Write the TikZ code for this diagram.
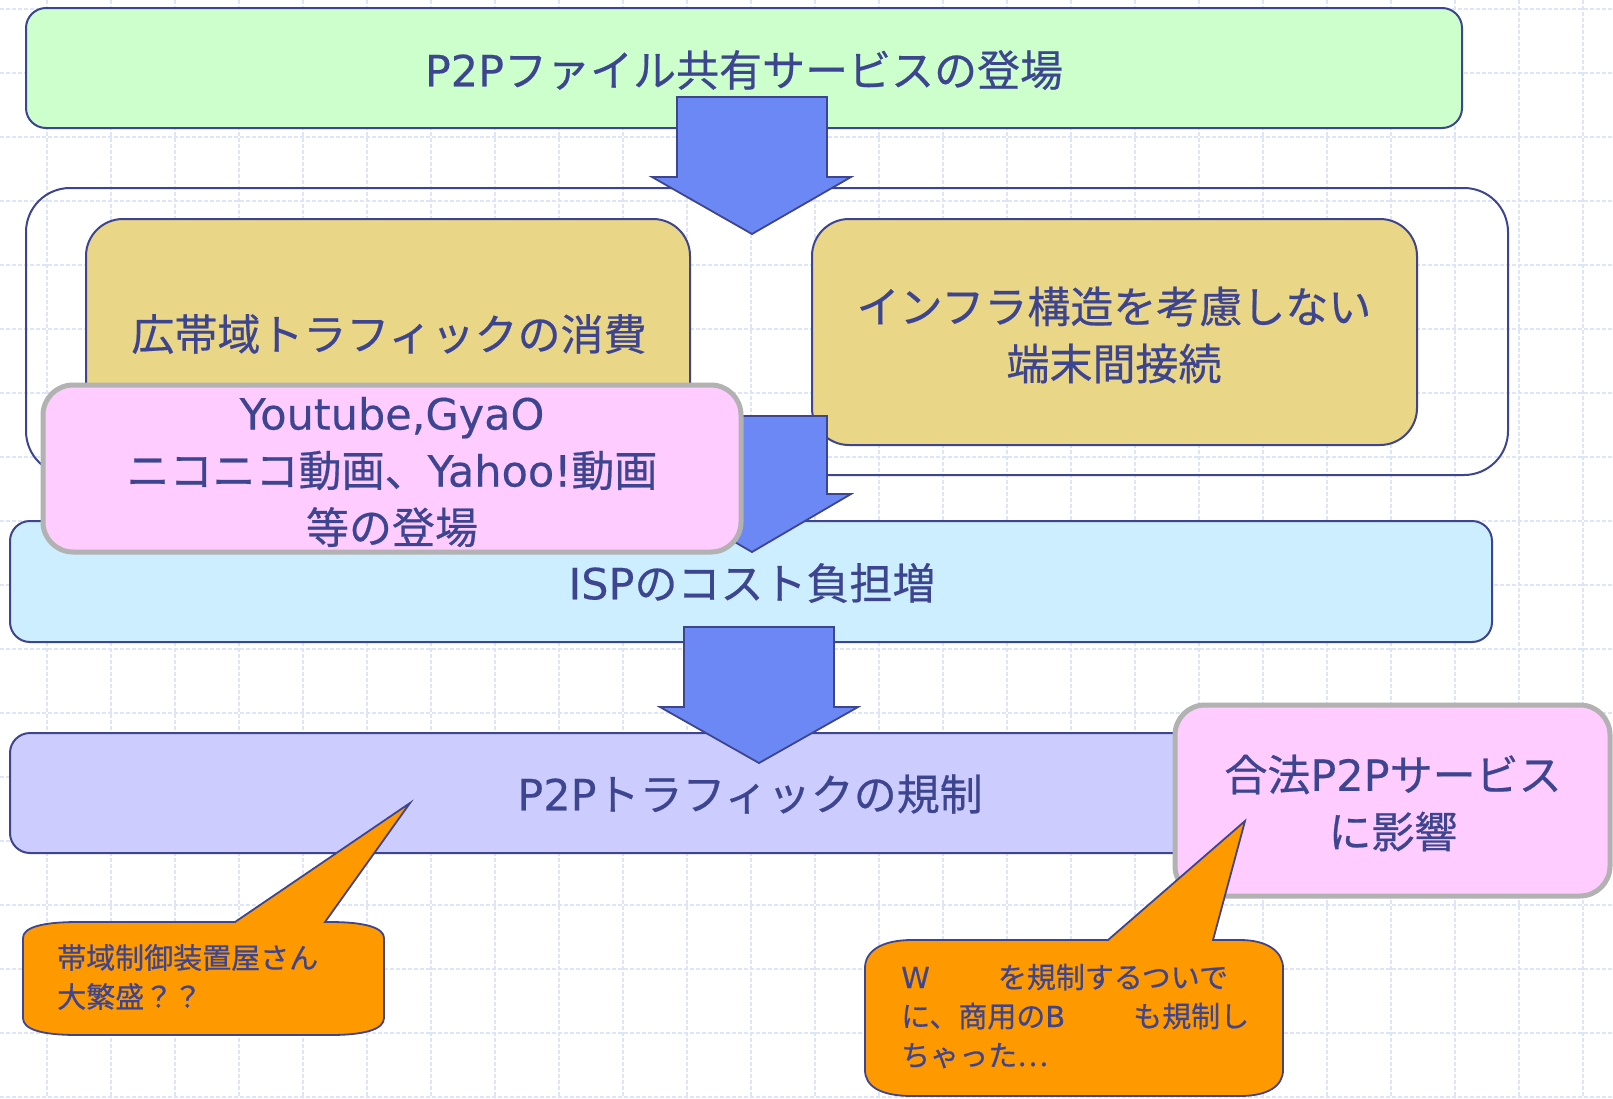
\documentclass[tikz,border=0pt]{standalone}
\usepackage{fontspec}
\setmainfont{Noto Sans CJK JP}[FakeBold=0.5]
\newfontfamily\latinf{DejaVu Sans}[FakeBold=0.3]
\newcommand{\lt}[1]{{\latinf #1}}
\definecolor{navy}{HTML}{3E4590}
\definecolor{gridc}{HTML}{DEE4FA}
\definecolor{greenf}{HTML}{CCFFCC}
\definecolor{yellowf}{HTML}{E9D687}
\definecolor{pinkf}{HTML}{FFCCFF}
\definecolor{bluef}{HTML}{CCEEFF}
\definecolor{lavf}{HTML}{CCCCFF}
\definecolor{arrowf}{HTML}{6C88F5}
\definecolor{orangef}{HTML}{FF9900}
\definecolor{grayb}{HTML}{B2B2B2}
\tikzset{
  box/.style={draw=navy, line width=2pt},
  pinkbox/.style={draw=grayb, line width=5pt, fill=pinkf},
  bigarrow/.style={draw=navy, line width=1.8pt, fill=arrowf, line join=miter},
  callout/.style={draw=navy, line width=1.8pt, fill=orangef},
  bigtext/.style={text=navy, font=\fontsize{43}{57}\selectfont, align=center, inner sep=0pt},
  smalltext/.style={text=navy, font=\fontsize{29}{39}\selectfont, align=left, inner sep=0pt, anchor=west},
}
\begin{document}
\begin{tikzpicture}[x=1pt,y=-1pt]
\useasboundingbox (0,0) rectangle (1613,1098);
\fill[white] (0,0) rectangle (1613,1098);
% grid
\foreach \gx in {47,111,...,1613} \draw[gridc, line width=1.3pt, dash pattern=on 4pt off 2pt] (\gx,0) -- (\gx,1098);
\foreach \gy in {9,73,...,1098} \draw[gridc, line width=1.3pt, dash pattern=on 4pt off 2pt] (0,\gy) -- (1613,\gy);

% green top box
\draw[box, fill=greenf, rounded corners=20pt] (26,8) rectangle (1462,128);
\node[bigtext] (t1) at (744,70) {\lt{P2P}ファイル共有サービスの登場};

% outer frame
\draw[box, rounded corners=44pt] (26,188) rectangle (1508,475);

% yellow boxes
\draw[box, fill=yellowf, rounded corners=37pt] (86,219) rectangle (690,445);
\node[bigtext] (t2) at (389,334) {広帯域トラフィックの消費};
\draw[box, fill=yellowf, rounded corners=37pt] (812,219) rectangle (1417,445);
\node[bigtext] (t3) at (1114,335) {インフラ構造を考慮しない\\端末間接続};

% arrow 1
\draw[bigarrow] (677,97) -- (827,97) -- (827,177) -- (851,177) -- (752,234) -- (652,177) -- (677,177) -- cycle;

% ISP box
\draw[box, fill=bluef, rounded corners=20pt] (10,521) rectangle (1492,642);
\node[bigtext] (t4) at (752,583) {\lt{ISP}のコスト負担増};

% arrow 2
\draw[bigarrow] (677,416) -- (827,416) -- (827,494) -- (851,494) -- (752,552) -- (652,494) -- (677,494) -- cycle;

% pink left box
\draw[pinkbox, rounded corners=30pt] (43,385) rectangle (741,552);
\node[bigtext] (t5) at (392,472) {\lt{Youtube,GyaO}\\ニコニコ動画、\lt{Yahoo!}動画\\等の登場};

% lavender box
\draw[box, fill=lavf, rounded corners=20pt] (10,733) rectangle (1492,853);
\node[bigtext] (t6) at (750,794) {\lt{P2P}トラフィックの規制};

% arrow 3
\draw[bigarrow] (684,627) -- (834,627) -- (834,707) -- (858,707) -- (759,763) -- (660,707) -- (684,707) -- cycle;

% pink right box
\draw[pinkbox, rounded corners=30pt] (1175,705) rectangle (1610,896);
\node[bigtext] (t7) at (1393,803) {合法\lt{P2P}サービス\\に影響};

% left callout
\draw[callout] (78,922) -- (235,922) -- (410,803) -- (325,922) -- (330,922)
  .. controls (366,922) and (384,928) .. (384,938) -- (384,1018)
  .. controls (384,1029) and (366,1035) .. (330,1035) -- (78,1035)
  .. controls (40,1035) and (23,1029) .. (23,1018) -- (23,938)
  .. controls (23,928) and (40,922) .. (78,922) -- cycle;
\node[smalltext] (t8) at (57,977) {帯域制御装置屋さん\\大繁盛？？};

% right callout
\draw[callout] (912,940) -- (1108,940) -- (1245,821) -- (1213,940) -- (1240,940)
  .. controls (1268,940) and (1283,952) .. (1283,968) -- (1283,1070)
  .. controls (1283,1086) and (1268,1096) .. (1240,1096) -- (912,1096)
  .. controls (880,1096) and (865,1086) .. (865,1070) -- (865,968)
  .. controls (865,952) and (880,940) .. (912,940) -- cycle;
\node[smalltext] (t9) at (901,1016) {\lt{W}\hspace{68pt}を規制するついで\\に、商用の\lt{B}\hspace{68pt}も規制し\\ちゃった…};
\end{tikzpicture}
\end{document}
